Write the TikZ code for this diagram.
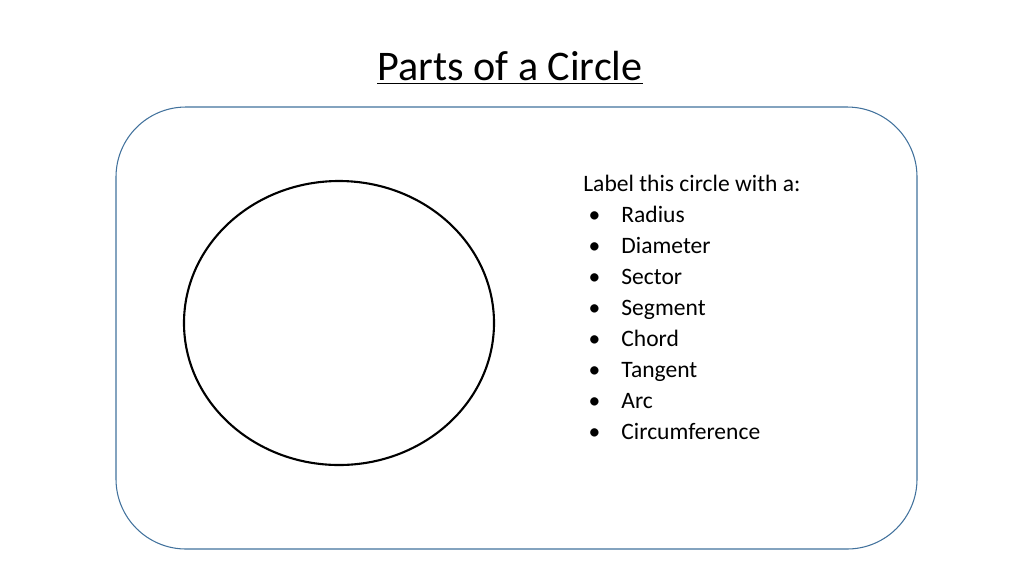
\documentclass[tikz,border=0pt]{standalone}
\usepackage{fontspec}
\setmainfont{Carlito}
\begin{document}
\begin{tikzpicture}[x=0.02cm,y=-0.02cm]
\useasboundingbox (0,0) rectangle (1024,576);
\tikzset{panel/.style={draw={rgb,255:red,65;green,113;blue,156},line width=0.6pt,rounded corners=1.4cm},
 listtext/.style={anchor=north west,font=\fontsize{13.4pt}{17.6pt}\selectfont,align=left,inner sep=0pt}}
\node (title) at (510,68) {\fontsize{24pt}{28pt}\selectfont\underline{Parts of a Circle}};
\node[panel,minimum width=801*0.02cm,minimum height=442*0.02cm] (frame) at (516.5,328) {};
\draw[line width=1.2pt] (339,323) ellipse [x radius=155,y radius=142];
\node[listtext] (list) at (583,175) {Label this circle with a:\\
\hspace{3pt}\textbullet\hspace{12pt}Radius\\
\hspace{3pt}\textbullet\hspace{12pt}Diameter\\
\hspace{3pt}\textbullet\hspace{12pt}Sector\\
\hspace{3pt}\textbullet\hspace{12pt}Segment\\
\hspace{3pt}\textbullet\hspace{12pt}Chord\\
\hspace{3pt}\textbullet\hspace{12pt}Tangent\\
\hspace{3pt}\textbullet\hspace{12pt}Arc\\
\hspace{3pt}\textbullet\hspace{12pt}Circumference};
\end{tikzpicture}
\end{document}
